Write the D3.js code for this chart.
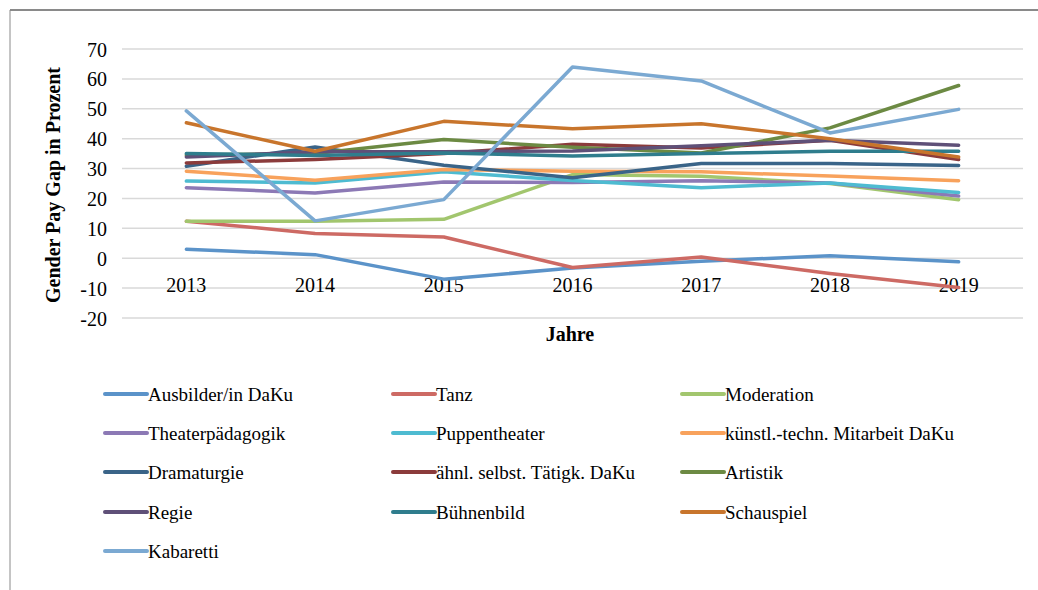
<!DOCTYPE html>
<html><head><meta charset="utf-8">
<script src="https://cdn.jsdelivr.net/npm/d3@7"></script>
<style>
body{margin:0;background:#fff;}
svg{display:block;}
</style></head>
<body>
<svg id="chart" width="1038" height="590"></svg>
<script>
const years = ["2013","2014","2015","2016","2017","2018","2019"];
const yTicks = [-20,-10,0,10,20,30,40,50,60,70];
const seriesNames = ["Ausbilder/in DaKu","Tanz","Moderation","Theaterpädagogik","Puppentheater","künstl.-techn. Mitarbeit DaKu","Dramaturgie","ähnl. selbst. Tätigk. DaKu","Artistik","Regie","Bühnenbild","Schauspiel","Kabaretti"];
const seriesColors = ["#5B93C9","#CD6A64","#A2C66E","#8C79B5","#4EBBD1","#F8A25C","#3A6488","#8B3B3B","#6C8A43","#5F5078","#2F7D8D","#C8752C","#7BA9D2"];
const ausbilder = [3,1.2,-7,-3.3,-1,0.8,-1.2];
const tanz = [12.4,8.3,7.1,-3.1,0.4,-5.1,-9.8];
const moderation = [12.4,12.4,13,28,27.4,25,19.6];
const theaterpaed = [23.6,21.8,25.5,25.3,25.9,25.2,20.8];
const puppentheater = [25.8,25.2,28.9,26,23.6,25.2,22];
const kuenstlTechn = [29.1,26.1,29.7,29.1,28.9,27.5,25.9];
const dramaturgie = [30.8,37.2,31.1,26.9,31.7,31.7,31];
const aehnlSelbst = [31.9,33,35,38.1,36.9,39.5,33];
const artistik = [34.5,35,39.7,37.1,35.2,43.6,57.8];
const regie = [33.9,35.6,35.6,35.9,37.6,39.5,37.8];
const buehnenbild = [35,34.4,35.2,34.2,35,35.8,35.8];
const schauspiel = [45.3,35.8,45.8,43.3,45,40,33.9];
const kabaretti = [49.3,12.5,19.6,64,59.3,41.9,49.8];
const seriesValues = [ausbilder,tanz,moderation,theaterpaed,puppentheater,kuenstlTechn,dramaturgie,aehnlSelbst,artistik,regie,buehnenbild,schauspiel,kabaretti];

const svg = d3.select("#chart");
const font = "'Liberation Serif', 'Times New Roman', serif";

// frame
svg.append("line").attr("x1",10).attr("x2",1038).attr("y1",10).attr("y2",10).attr("stroke","#8a8a8a").attr("stroke-width",2);
svg.append("line").attr("x1",10).attr("x2",10).attr("y1",10).attr("y2",590).attr("stroke","#8a8a8a").attr("stroke-width",1);

const x = d3.scaleBand().domain(years).range([122,1023]);
const y = d3.scaleLinear().domain([-20,70]).range([318,49]);

// gridlines
svg.append("g").selectAll("line").data(yTicks).join("line")
  .attr("x1",122).attr("x2",1023)
  .attr("y1",d=>y(d)).attr("y2",d=>y(d))
  .attr("stroke","#d9d9d9").attr("stroke-width",1.5);

// y axis labels
const yAxis = d3.axisLeft(y).tickValues(yTicks).tickSize(0).tickPadding(0).tickFormat(d=>d);
const yg = svg.append("g").attr("transform","translate(107,0)").call(yAxis);
yg.select(".domain").remove();
yg.selectAll("text").attr("font-family",font).attr("font-size",20).attr("fill","#000").attr("dy","0.35em");

// x axis labels at y=0 line
const xAxis = d3.axisBottom(x).tickSize(0).tickPadding(0);
const xg = svg.append("g").attr("transform",`translate(0,${y(0)})`).call(xAxis);
xg.select(".domain").remove();
xg.selectAll("text").attr("font-family",font).attr("font-size",20).attr("fill","#000").attr("dy","0").attr("y",34);

// lines
const line = d3.line().x((d,i)=>x(years[i])+x.bandwidth()/2).y(d=>y(d));
svg.append("g").selectAll("path").data(seriesValues).join("path")
  .attr("d",line).attr("fill","none")
  .attr("stroke",(d,i)=>seriesColors[i]).attr("stroke-width",3.5)
  .attr("stroke-linejoin","round").attr("stroke-linecap","round");

// axis titles
svg.append("text").attr("transform","translate(60,185) rotate(-90)")
  .attr("text-anchor","middle").attr("font-family",font).attr("font-weight","bold")
  .attr("font-size",20).text("Gender Pay Gap in Prozent");
svg.append("text").attr("x",570).attr("y",341).attr("text-anchor","middle")
  .attr("font-family",font).attr("font-weight","bold").attr("font-size",20).text("Jahre");

// legend
const colX = [105,393,682];
const rowY = [394,433,472,512,551];
const lg = svg.append("g").selectAll("g").data(seriesNames).join("g")
  .attr("transform",(d,i)=>`translate(${colX[i%3]},${rowY[Math.floor(i/3)]})`);
lg.append("line").attr("x1",0).attr("x2",42).attr("y1",0).attr("y2",0)
  .attr("stroke",(d,i)=>seriesColors[i]).attr("stroke-width",4).attr("stroke-linecap","round");
lg.append("text").attr("x",43).attr("y",0).attr("dy","0.35em")
  .attr("font-family",font).attr("font-size",19).attr("fill","#000").text(d=>d);
</script>
</body></html>
